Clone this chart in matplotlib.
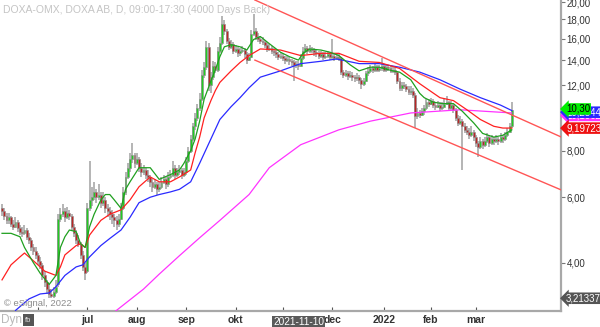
import numpy as np
import pandas as pd
import matplotlib
matplotlib.use('Agg')
import matplotlib.pyplot as plt
import matplotlib.transforms as mtransforms
from matplotlib.patches import Rectangle
from matplotlib.ticker import FuncFormatter, NullLocator

plt.rcParams['font.family'] = ['Liberation Sans', 'DejaVu Sans']

# Daily candles DOXA AB, first day 2021-05-10
opens = [5.60, 5.50, 5.35, 5.20, 5.30, 5.10, 5.00, 5.15, 4.95, 4.85,
         4.80, 4.90, 4.70, 4.60, 4.40, 4.30, 4.20, 4.05, 3.95, 3.70,
         3.55, 3.40, 3.30, 3.25, 3.35, 3.50, 5.25, 5.40, 5.50, 5.30,
         5.45, 5.35, 5.00, 4.80, 4.60, 4.50, 4.20, 3.90, 3.80, 5.60,
         5.90, 6.00, 6.20, 6.00, 6.10, 5.80, 5.90, 5.60, 5.50, 5.40,
         5.30, 5.20, 5.10, 5.25, 5.60, 6.20, 6.80, 7.20, 7.60, 7.80,
         7.40, 7.60, 7.20, 7.00, 7.10, 6.90, 6.80, 6.60, 6.40, 6.50,
         6.30, 6.40, 6.60, 6.70, 6.50, 6.80, 6.90, 7.20, 6.90, 7.00,
         7.10, 6.90, 7.00, 7.50, 8.00, 8.60, 9.30, 9.80, 10.40, 11.00,
         12.80, 13.40, 15.20, 12.00, 12.60, 13.50, 13.20, 14.80, 15.60, 17.50,
         16.80, 15.80, 15.20, 15.50, 14.80, 15.00, 14.60, 14.80, 14.90, 14.50,
         14.00, 14.30, 16.50, 16.80, 16.20, 16.00, 15.80, 15.70, 15.40, 15.00,
         15.10, 14.80, 14.70, 14.50, 14.30, 14.40, 14.20, 14.00, 14.10, 13.90,
         13.80, 13.60, 13.70, 13.50, 14.20, 14.80, 15.10, 14.80, 15.00, 14.90,
         14.70, 14.60, 14.40, 14.50, 14.30, 14.40, 14.50, 14.30, 14.40, 14.20,
         14.30, 14.20, 13.00, 12.80, 12.90, 12.70, 12.80, 12.60, 12.50, 12.60,
         12.40, 12.10, 12.30, 12.90, 13.10, 13.30, 13.20, 13.40, 13.20, 13.30,
         13.50, 13.20, 13.40, 13.30, 13.10, 13.20, 13.00, 12.30, 11.80, 12.00,
         11.90, 11.70, 11.50, 11.60, 11.30, 9.90, 10.10, 10.00, 10.20, 10.40,
         10.80, 10.70, 10.90, 10.60, 10.50, 10.60, 10.40, 10.50, 10.70, 10.80,
         10.40, 10.60, 10.30, 9.80, 9.50, 9.60, 9.30, 9.10, 9.00, 8.80,
         9.00, 8.70, 8.40, 8.20, 8.50, 8.30, 8.50, 8.70, 8.40, 8.60,
         8.50, 8.60, 8.50, 8.70, 8.60, 8.80, 9.00, 9.30]
highs = [5.75, 5.60, 5.45, 5.45, 5.35, 5.20, 5.30, 5.20, 5.05, 5.00,
         5.05, 4.95, 4.80, 4.65, 4.50, 4.40, 4.25, 4.15, 4.00, 3.80,
         3.60, 3.50, 3.40, 3.45, 3.60, 5.40, 5.60, 5.75, 5.60, 5.65,
         5.55, 5.40, 5.10, 4.90, 4.75, 4.55, 4.30, 4.00, 5.80, 7.50,
         6.40, 6.60, 6.30, 6.50, 6.20, 6.20, 6.00, 5.75, 5.65, 5.55,
         5.40, 5.35, 5.40, 5.80, 6.40, 7.00, 7.40, 7.90, 8.40, 7.90,
         7.90, 7.70, 7.40, 7.30, 7.20, 7.10, 6.90, 6.70, 6.70, 6.60,
         6.60, 6.80, 6.90, 6.80, 7.00, 7.10, 7.50, 7.30, 7.20, 7.30,
         7.20, 7.20, 7.70, 8.20, 8.80, 9.50, 10.10, 10.70, 11.40, 13.20,
         13.80, 15.80, 15.60, 13.00, 13.90, 13.80, 15.20, 16.20, 18.40, 17.90,
         17.00, 16.10, 15.90, 15.70, 15.40, 15.20, 15.10, 15.30, 15.10, 14.70,
         14.60, 16.90, 18.60, 17.10, 16.60, 16.30, 16.20, 15.90, 15.60, 15.50,
         15.30, 15.10, 14.90, 14.70, 14.70, 14.60, 14.40, 14.40, 14.30, 14.10,
         14.00, 13.90, 13.90, 14.50, 15.20, 15.50, 15.30, 15.40, 15.20, 15.10,
         14.90, 14.80, 14.80, 14.70, 14.70, 14.80, 14.70, 16.00, 14.60, 14.60,
         14.50, 14.30, 13.20, 13.20, 13.10, 13.10, 13.00, 12.80, 12.90, 12.80,
         12.50, 12.50, 13.10, 13.40, 13.60, 13.50, 13.70, 13.60, 13.60, 14.20,
         13.70, 13.70, 13.60, 13.50, 13.50, 13.40, 13.10, 12.50, 12.20, 12.20,
         12.10, 11.90, 11.90, 11.80, 11.40, 10.40, 10.30, 10.40, 10.60, 11.00,
         11.00, 11.10, 11.00, 10.80, 10.90, 10.80, 10.80, 11.00, 11.20, 10.90,
         10.90, 10.70, 10.40, 10.00, 9.90, 9.70, 9.50, 9.30, 9.20, 9.30,
         9.10, 8.80, 8.50, 8.70, 8.60, 8.70, 8.90, 8.80, 8.80, 8.70,
         8.80, 8.70, 8.90, 8.80, 9.00, 9.20, 9.50, 10.80]
lows = [5.35, 5.20, 5.10, 5.10, 5.00, 4.90, 4.95, 4.85, 4.75, 4.70,
        4.75, 4.60, 4.50, 4.30, 4.20, 4.10, 3.95, 3.85, 3.60, 3.45,
        3.30, 3.22, 3.21, 3.22, 3.30, 3.45, 5.15, 5.30, 5.15, 5.25,
        5.20, 4.90, 4.70, 4.50, 4.40, 4.10, 3.80, 3.60, 3.75, 5.50,
        5.70, 5.90, 5.80, 5.90, 5.60, 5.70, 5.45, 5.30, 5.20, 5.10,
        5.00, 4.90, 5.00, 5.20, 5.55, 6.10, 6.70, 7.00, 7.40, 7.20,
        7.30, 7.00, 6.80, 6.90, 6.70, 6.60, 6.40, 6.20, 6.30, 6.10,
        6.20, 6.30, 6.50, 6.30, 6.40, 6.70, 6.80, 6.70, 6.80, 6.90,
        6.70, 6.80, 6.90, 7.40, 7.90, 8.50, 9.10, 9.60, 10.20, 10.90,
        12.50, 13.20, 11.60, 11.40, 12.40, 12.90, 13.00, 14.60, 15.40, 16.40,
        15.50, 14.90, 15.00, 14.50, 14.60, 14.30, 14.40, 14.60, 14.20, 13.70,
        13.90, 14.20, 16.30, 15.90, 15.70, 15.50, 15.40, 15.10, 14.70, 14.80,
        14.50, 14.40, 14.20, 14.00, 14.10, 13.90, 13.70, 13.80, 13.60, 13.50,
        12.30, 13.30, 13.20, 13.40, 14.00, 14.60, 14.50, 14.60, 14.60, 14.40,
        14.30, 14.10, 14.20, 14.00, 14.10, 14.20, 14.00, 14.10, 13.90, 14.00,
        13.90, 12.80, 12.50, 12.60, 12.40, 12.50, 12.30, 12.20, 12.30, 12.10,
        11.70, 11.90, 12.20, 12.70, 12.90, 12.90, 13.00, 13.00, 13.00, 13.10,
        13.00, 13.00, 13.10, 12.90, 12.90, 12.80, 12.10, 11.60, 11.60, 11.70,
        11.50, 11.30, 11.30, 11.10, 9.20, 9.70, 9.80, 9.90, 10.00, 10.30,
        10.50, 10.60, 10.40, 10.30, 10.40, 10.20, 10.30, 10.40, 10.60, 10.20,
        10.30, 10.10, 9.60, 9.30, 9.40, 7.10, 8.90, 8.80, 8.60, 8.70,
        8.50, 8.20, 7.70, 8.10, 8.10, 8.20, 8.40, 8.20, 8.30, 8.30,
        8.40, 8.30, 8.40, 8.40, 8.50, 8.70, 8.90, 9.20]
closes = [5.50, 5.35, 5.20, 5.30, 5.10, 5.00, 5.15, 4.95, 4.85, 4.80,
          4.90, 4.70, 4.60, 4.40, 4.30, 4.20, 4.05, 3.95, 3.70, 3.55,
          3.40, 3.30, 3.25, 3.35, 3.45, 5.25, 5.40, 5.50, 5.30, 5.45,
          5.35, 5.00, 4.80, 4.60, 4.50, 4.20, 3.90, 3.75, 5.60, 5.90,
          6.00, 6.20, 6.00, 6.10, 5.80, 5.90, 5.60, 5.50, 5.40, 5.30,
          5.20, 5.10, 5.25, 5.60, 6.20, 6.80, 7.20, 7.60, 7.80, 7.40,
          7.60, 7.20, 7.00, 7.10, 6.90, 6.80, 6.60, 6.40, 6.50, 6.30,
          6.40, 6.60, 6.70, 6.50, 6.80, 6.90, 7.20, 6.90, 7.00, 7.10,
          6.90, 7.00, 7.50, 8.00, 8.60, 9.30, 9.80, 10.40, 11.00, 12.80,
          13.40, 15.20, 12.00, 12.60, 13.50, 13.20, 14.80, 15.60, 17.50, 16.80,
          15.80, 15.20, 15.50, 14.80, 15.00, 14.60, 14.80, 14.90, 14.50, 14.00,
          14.30, 16.50, 16.80, 16.20, 16.00, 15.80, 15.70, 15.40, 15.00, 15.10,
          14.80, 14.70, 14.50, 14.30, 14.40, 14.20, 14.00, 14.10, 13.90, 13.80,
          13.60, 13.70, 13.50, 14.20, 14.80, 15.10, 14.80, 15.00, 14.90, 14.70,
          14.60, 14.40, 14.50, 14.30, 14.40, 14.50, 14.30, 14.40, 14.20, 14.30,
          14.20, 13.00, 12.80, 12.90, 12.70, 12.80, 12.60, 12.50, 12.60, 12.40,
          12.10, 12.30, 12.90, 13.10, 13.30, 13.20, 13.40, 13.20, 13.30, 13.50,
          13.20, 13.40, 13.30, 13.10, 13.20, 13.00, 12.30, 11.80, 12.00, 11.90,
          11.70, 11.50, 11.60, 11.30, 9.90, 10.10, 10.00, 10.20, 10.40, 10.80,
          10.70, 10.90, 10.60, 10.50, 10.60, 10.40, 10.50, 10.70, 10.80, 10.40,
          10.60, 10.30, 9.80, 9.50, 9.60, 9.30, 9.10, 9.00, 8.80, 9.00,
          8.70, 8.40, 8.20, 8.50, 8.30, 8.50, 8.70, 8.40, 8.60, 8.50,
          8.60, 8.50, 8.70, 8.60, 8.80, 9.00, 9.30, 10.30]

# moving averages, sampled from the chart (day index, value)
green_idx = [0, 4, 8, 10, 14, 17, 21, 24, 26, 28, 30, 33, 35, 37, 39, 41, 44, 46, 48, 50,
             53, 55, 57, 61, 66, 70, 75, 79, 81, 84, 86, 88, 90, 93, 95, 97, 99, 102, 106, 109,
             112, 115, 119, 124, 128, 132, 134, 137, 142, 146, 150, 155, 159, 164, 168, 174, 177, 182, 186, 188,
             192, 196, 201, 205, 210, 214, 219, 223, 227]
green_ma = [4.8, 4.8, 4.7, 4.4, 4.0, 3.75, 3.5, 3.7, 4.4, 4.7, 4.9, 4.85, 4.5, 4.4, 5.0, 5.4, 5.9, 6.1, 6.1, 5.9,
            5.6, 6.3, 6.6, 7.2, 7.2, 6.7, 6.9, 7.1, 7.4, 8.0, 8.6, 9.6, 11.0, 12.3, 13.2, 14.3, 15.2, 15.4, 15.2, 14.9,
            15.9, 16.2, 15.5, 14.7, 14.3, 14.0, 14.6, 15.0, 14.9, 14.7, 14.4, 13.6, 13.1, 13.4, 13.4, 13.1, 13.0, 12.4, 11.4, 11.1,
            10.8, 10.7, 10.7, 10.2, 9.5, 8.9, 8.7, 8.8, 9.1]
red_idx = [0, 4, 8, 10, 15, 19, 24, 26, 28, 33, 35, 37, 39, 44, 48, 53, 57, 61, 66, 70,
           75, 79, 84, 86, 88, 90, 93, 95, 97, 102, 106, 110, 115, 124, 133, 142, 150, 159, 168, 177,
           186, 195, 201, 207, 213, 219, 223, 227]
red_ma = [3.6, 3.95, 4.15, 4.25, 4.0, 3.8, 3.7, 3.9, 4.2, 4.45, 4.5, 4.4, 4.75, 5.2, 5.4, 5.55, 5.9, 6.4, 6.8, 6.6,
          6.6, 6.8, 7.1, 7.9, 8.7, 9.8, 10.9, 11.6, 12.2, 13.1, 13.8, 14.4, 15.0, 14.9, 14.4, 14.6, 14.6, 13.9, 13.8, 13.3,
          12.1, 11.1, 10.9, 10.3, 9.7, 9.3, 9.2, 9.2]
blue_idx = [6, 12, 17, 21, 24, 28, 33, 36, 39, 44, 48, 53, 57, 61, 66, 70, 75, 79, 84, 88,
            93, 97, 102, 106, 110, 115, 124, 133, 142, 149, 159, 168, 177, 186, 195, 204, 213, 222, 227]
blue_ma = [2.98, 3.2, 3.3, 3.32, 3.45, 3.7, 3.9, 3.95, 4.15, 4.45, 4.65, 4.9, 5.3, 5.8, 6.0, 6.1, 6.2, 6.3, 6.6, 7.4,
           8.6, 9.7, 10.5, 11.1, 11.8, 12.6, 13.1, 13.7, 13.9, 14.1, 13.7, 13.7, 13.4, 13.0, 12.4, 11.7, 11.1, 10.6, 10.25]
mag_idx = [50, 63, 70, 79, 88, 97, 110, 119, 133, 150, 164, 182, 204, 227]
mag_ma = [2.95, 3.4, 3.73, 4.18, 4.67, 5.2, 6.1, 7.2, 8.3, 9.1, 9.6, 10.1, 10.3, 10.1]

# trend channel (day index, price)
chan_x = [112.6, 248.9]
chan_upper = [20.3, 8.71]
chan_lower = [14.0, 6.28]

yticks = [4, 6, 8, 10, 12, 14, 16, 18, 20]
month_names = {1: '2022', 2: 'feb', 3: 'mar', 6: '', 7: 'jul', 8: 'aug', 9: 'sep', 10: 'okt', 11: '', 12: 'dec'}

o = np.array(opens)
h = np.array(highs)
l = np.array(lows)
c = np.array(closes)
x = np.arange(len(c))
dates = pd.bdate_range('2021-05-10', periods=len(c))

fig = plt.figure(figsize=(6, 3.27), dpi=100)
ax = fig.add_axes([0, 16 / 327, 561 / 600, 311 / 327])
ax.set_yscale('log')
ax.set_ylim(2.97, 20.3)
ax.set_xlim(-0.9, 248.9)

# candles
ax.vlines(x, l, h, color='#a0a0a0', lw=1.1, zorder=2)
up = c >= o
hgt = np.maximum(np.abs(c - o), 0.03)
bot = np.minimum(o, c)
ax.bar(x[up], hgt[up], bottom=bot[up], width=0.85, color='#22cc22', edgecolor='#8c8c8c', lw=0.4, zorder=3)
ax.bar(x[~up], hgt[~up], bottom=bot[~up], width=0.85, color='#b82626', edgecolor='#8c8c8c', lw=0.4, zorder=3)

# moving averages
ax.plot(mag_idx, mag_ma, color='#ff33ff', lw=0.9, zorder=4)
ax.plot(blue_idx, blue_ma, color='#2a2aff', lw=0.9, zorder=4)
ax.plot(red_idx, red_ma, color='#ff2020', lw=0.9, zorder=4)
ax.plot(green_idx, green_ma, color='#1fa01f', lw=0.9, zorder=4)

# channel
ax.plot(chan_x, chan_upper, color='#ff5555', lw=1.0, zorder=5)
ax.plot(chan_x, chan_lower, color='#ff5555', lw=1.0, zorder=5)

# axes look
for s in ['top', 'left']:
    ax.spines[s].set_visible(False)
for s in ['right', 'bottom']:
    ax.spines[s].set_color('#a8a8a8')
    ax.spines[s].set_linewidth(1.6)

ax.yaxis.tick_right()
ax.set_yticks(yticks)
ax.yaxis.set_minor_locator(NullLocator())
ax.yaxis.set_major_formatter(FuncFormatter(lambda v, p: f'{v:.2f}'.replace('.', ',')))
ax.tick_params(axis='y', length=3, color='#777777', labelsize=7, labelcolor='#333333', pad=1)

month_pos = [i for i in range(1, len(dates)) if dates[i].month != dates[i - 1].month]
ax.set_xticks(month_pos)
ax.set_xticklabels([month_names[dates[i].month] for i in month_pos], fontsize=7.5, fontweight='bold', color='#333333')
ax.tick_params(axis='x', length=3, direction='in', color='#555555', pad=3)

# crosshair date box
d_i = dates.get_loc(pd.Timestamp('2021-11-10'))
trans_x = mtransforms.blended_transform_factory(ax.transData, ax.transAxes)
ax.text(d_i, -0.036, '2021-11-10', transform=trans_x, ha='center', va='center', fontsize=7.3,
        color='white', clip_on=False, bbox=dict(boxstyle='square,pad=0.12', fc='#5a5a5a', ec='none'))

# price labels on the right axis
trans_y = mtransforms.blended_transform_factory(ax.transAxes, ax.transData)
def price_tag(val, txt, fc, tc):
    ax.text(1.009, val, txt, transform=trans_y, ha='left', va='center', fontsize=7, color=tc,
            clip_on=False, zorder=10,
            bbox=dict(boxstyle='larrow,pad=0.08', fc=fc, ec='none'))

price_tag(mag_ma[-1] * 0.985, '10,1062', '#ff33ff', '#ffffff')
price_tag(blue_ma[-1] * 0.99, '10,2544', '#2a2aff', '#ffffff')
price_tag(closes[-1] * 1.005, f'{closes[-1]:.2f}'.replace('.', ','), '#00ee00', '#000000')
price_tag(9.19723, '9,19723', '#ee1111', '#ffffff')
price_tag(3.21337, '3,21337', '#555555', '#ffffff')

# texts
fig.text(3 / 600, 1 - 10 / 327, 'DOXA-OMX, DOXA AB, D, 09:00-17:30 (4000 Days Back)',
         color='#c4c4c4', fontsize=7.5, va='center', ha='left')
fig.text(4 / 600, 1 - 303 / 327, '© eSignal, 2022', color='#8c8c8c', fontsize=6.8, va='center', ha='left')
fig.text(1 / 600, 1 - 320 / 327, 'Dyn', color='#b8b8b8', fontsize=8.5, va='center', ha='left')
fig.patches.append(Rectangle((23 / 600, 1 - 326 / 327), 11 / 600, 12 / 327, transform=fig.transFigure,
                             fc='#555555', ec='none'))
fig.text(28.5 / 600, 1 - 320 / 327, 'fb', color='#dddddd', fontsize=5.5, va='center', ha='center')

fig.savefig('out.png', dpi=100)
